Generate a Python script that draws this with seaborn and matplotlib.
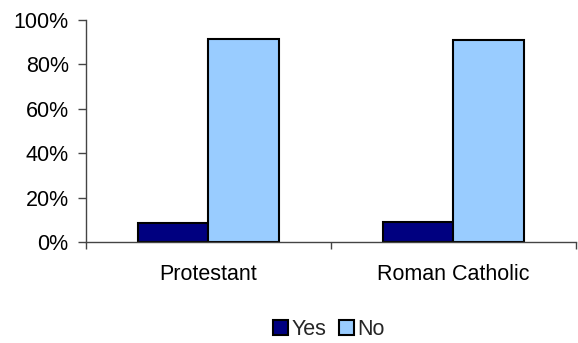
import matplotlib
matplotlib.use("Agg")
import matplotlib.pyplot as plt
import seaborn as sns
import pandas as pd
from matplotlib.ticker import PercentFormatter, FixedLocator

categories = ["Protestant", "Roman Catholic"]
series_names = ["Yes", "No"]
yes_values = [8.7, 9.1]
no_values = [91.4, 91.0]
y_ticks = [0, 20, 40, 60, 80, 100]

rows = []
for c, y, n in zip(categories, yes_values, no_values):
    rows.append({"Religion": c, "Answer": "Yes", "Value": y})
    rows.append({"Religion": c, "Answer": "No", "Value": n})
df = pd.DataFrame(rows)

sns.set_style("white")
plt.rcParams["font.family"] = ["Liberation Sans", "DejaVu Sans"]

FS = 15.5
fig = plt.figure(figsize=(5.78, 3.43), dpi=100)
ax = fig.add_axes([0.1488, 0.2945, 0.8477, 0.6472])

sns.barplot(data=df, x="Religion", y="Value", hue="Answer",
            hue_order=series_names, order=categories,
            palette={"Yes": "#000080", "No": "#99CCFF"}, saturation=1,
            width=0.575, edgecolor="black", linewidth=1.5,
            errorbar=None, ax=ax, legend=True)

ax.set_xlim(-0.5, 1.5)
ax.set_ylim(0, 100)
ax.set_yticks(y_ticks)
ax.yaxis.set_major_formatter(PercentFormatter(decimals=0))
ax.set_xlabel("")
ax.set_ylabel("")

ax.xaxis.set_minor_locator(FixedLocator([-0.5, 0.5, 1.5]))
ax.tick_params(axis="x", which="major", length=0, pad=16, labelsize=FS, colors="black")
ax.tick_params(axis="x", which="minor", length=5, width=1, color="#444444", direction="out")
ax.tick_params(axis="y", which="major", length=5.5, width=1, color="#444444", direction="out",
               labelsize=FS, labelcolor="black", pad=7)
ax.tick_params(bottom=True, left=True, which="both")

for s in ["top", "right"]:
    ax.spines[s].set_visible(False)
for s in ["left", "bottom"]:
    ax.spines[s].set_color("#444444")
    ax.spines[s].set_linewidth(1)

handles, labels = ax.get_legend_handles_labels()
ax.get_legend().remove()
fig.legend(handles, labels, loc="center", bbox_to_anchor=(0.569, 0.038),
           bbox_transform=fig.transFigure, ncol=2, frameon=False,
           fontsize=FS, handlelength=0.7, handleheight=0.7,
           handletextpad=0.15, columnspacing=0.6)

fig.savefig("out.png", dpi=100)
